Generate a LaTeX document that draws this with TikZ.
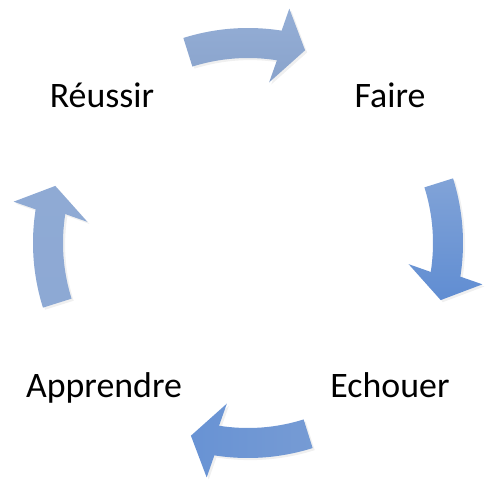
\documentclass[tikz,border=0pt]{standalone}
\usepackage{fontspec}
\setmainfont{Carlito}
\usetikzlibrary{shadows}

\definecolor{cyclelight}{RGB}{143,170,212}
\definecolor{cyclemid}{RGB}{118,155,212}
\definecolor{cycledark}{RGB}{96,141,210}

\begin{document}
\begin{tikzpicture}[scale=0.02,
    cyclearrow/.style={draw=none, drop shadow={opacity=0.12, shadow xshift=1.2pt, shadow yshift=-1.2pt}},
    steplabel/.style={anchor=base, font=\fontsize{20.4}{24}\selectfont}]
    \useasboundingbox (-248,-249) rectangle (247,243);

    % top: Reussir -> Faire
    \path[cyclearrow, top color=cyclelight!95!white, bottom color=cyclelight!96!black]
        (107.5:215) arc[start angle=107.5, end angle=81, radius=215]
        -- (80:238) -- (73.5:201) -- (82.5:162) -- (81:185)
        arc[start angle=81, end angle=107.5, radius=185] -- cycle;

    % right: Faire -> Echouer
    \path[cyclearrow, top color=cyclemid!92!white, bottom color=cycledark]
        (17.5:215) arc[start angle=17.5, end angle=-9, radius=215]
        -- (-10:238) -- (-16.5:201) -- (-7.5:162) -- (-9:185)
        arc[start angle=-9, end angle=17.5, radius=185] -- cycle;

    % bottom: Echouer -> Apprendre
    \path[cyclearrow, right color=cyclemid, left color=cycledark!95!white]
        (-72.5:215) arc[start angle=-72.5, end angle=-99, radius=215]
        -- (-100:238) -- (-106.5:201) -- (-97.5:162) -- (-99:185)
        arc[start angle=-99, end angle=-72.5, radius=185] -- cycle;

    % left: Apprendre -> Reussir
    \path[cyclearrow, top color=cyclelight, bottom color=cyclelight!92!cyclemid]
        (197.5:215) arc[start angle=197.5, end angle=171, radius=215]
        -- (170:238) -- (163.5:201) -- (172.5:162) -- (171:185)
        arc[start angle=171, end angle=197.5, radius=185] -- cycle;

    \node[steplabel] (reussir)   at (-146,135)  {Réussir};
    \node[steplabel] (faire)     at (142,135)   {Faire};
    \node[steplabel] (echouer)   at (142,-154)  {Echouer};
    \node[steplabel] (apprendre) at (-144,-154) {Apprendre};
\end{tikzpicture}
\end{document}
